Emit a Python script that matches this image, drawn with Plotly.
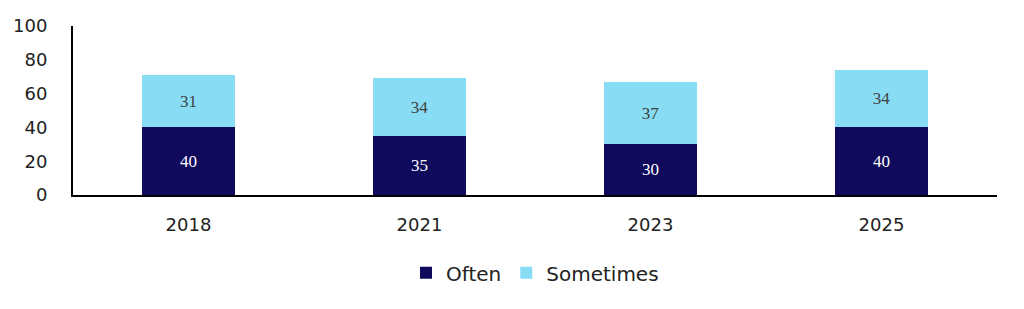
import plotly.graph_objects as go

years = ["2018", "2021", "2023", "2025"]
often = [40, 35, 30, 40]
sometimes = [31, 34, 37, 34]
y_ticks = [0, 20, 40, 60, 80, 100]

fig = go.Figure()
fig.add_trace(go.Bar(
    x=years, y=often, name="Often",
    marker=dict(color="#0f0a5c", line=dict(width=0)),
    text=[str(v) for v in often], textposition="inside", insidetextanchor="middle",
    textfont=dict(family="Liberation Serif", size=17, color="white"),
))
fig.add_trace(go.Bar(
    x=years, y=sometimes, name="Sometimes",
    marker=dict(color="#88ddf5", line=dict(width=0)),
    text=[str(v) for v in sometimes], textposition="inside", insidetextanchor="middle",
    textfont=dict(family="Liberation Serif", size=17, color="#404040"),
))
fig.update_layout(
    barmode="stack",
    width=1024, height=309,
    margin=dict(l=73, r=27, t=26, b=114),
    paper_bgcolor="white", plot_bgcolor="white",
    bargap=0.6,
    font=dict(family="DejaVu Sans", size=18, color="#222222"),
    showlegend=True,
    legend=dict(orientation="h", x=0.5, xanchor="center", y=-0.46, yanchor="middle",
                font=dict(size=20), traceorder="normal", itemwidth=30),
    uniformtext=dict(mode="show", minsize=10),
)
fig.update_xaxes(showline=True, linecolor="black", linewidth=2, ticks="", showgrid=False,
                 tickfont=dict(size=18), ticklabelstandoff=12)
fig.update_yaxes(range=[0, 100], tickvals=y_ticks, showline=True, linecolor="black", linewidth=2,
                 ticks="", showgrid=False, zeroline=False, tickfont=dict(size=18),
                 ticklabelstandoff=20)
fig.write_html("out.html")
